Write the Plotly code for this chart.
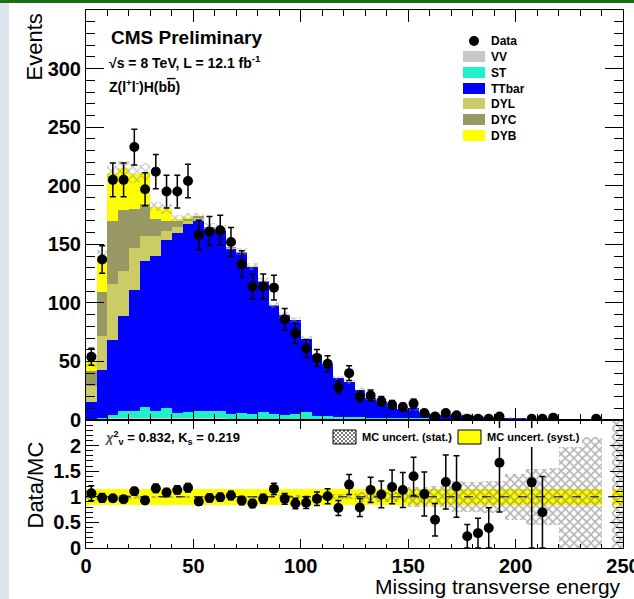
import numpy as np
import plotly.graph_objects as go

# ---------------- binning ----------------
bin_lo, bin_hi, bin_w = 0.0, 250.0, 5.0
centers = np.arange(bin_lo + bin_w / 2, bin_hi, bin_w)

# ---------------- observed events per bin ----------------
data_events = np.array([
    54, 137, 205, 205, 233, 197, 212, 195, 195, 204,
    158, 161, 162, 152, 133, 114, 114, 113, 86, 74,
    61, 53, 48, 28, 40, 20, 21, 16, 13, 11,
    14, 6, 3, 6, 4, 1, 1, 1, 3, 0,
    0, 1, 1, 2, 0, 0, 0, 1, 0, 0], dtype=float)

# ---------------- simulated backgrounds (stacked bottom -> top) ----------------
vv = np.array([
    0.3, 0.5, 1.0, 1.5, 1.5, 1.5, 1.5, 1.5, 1.2, 1.2,
    1.0, 1.0, 1.0, 0.8, 0.8, 0.7, 0.7, 0.6, 0.5, 0.5,
    0.5, 0.4, 0.4, 0.3, 0.3, 0.3, 0.2, 0.2, 0.2, 0.1,
    0.1, 0.1, 0.1, 0.1, 0.05, 0.1, 0.05, 0.05, 0.05, 0.05,
    0.05, 0.0, 0.0, 0.0, 0.0, 0.0, 0.0, 0.0, 0.0, 0.0])
st = np.array([
    0.5, 1.5, 3.0, 6.0, 6.0, 9.5, 6.0, 8.5, 5.0, 6.0,
    7.0, 7.0, 6.5, 4.0, 5.5, 4.3, 5.8, 4.4, 3.8, 4.5,
    6.0, 3.3, 2.8, 2.5, 2.5, 2.0, 1.8, 1.5, 1.2, 1.0,
    1.0, 0.8, 0.7, 0.6, 0.5, 0.5, 0.4, 0.3, 0.25, 0.2,
    0.2, 0.1, 0.15, 0.1, 0.05, 0.05, 0.05, 0.05, 0.0, 0.05])
ttbar = np.array([
    14.2, 41.0, 64.0, 81.5, 103.5, 124.5, 132.5, 144.0, 153.8, 159.8,
    162.3, 155.0, 154.0, 141.5, 136.0, 125.5, 111.5, 92.5, 85.0, 80.0,
    62.5, 51.5, 44.3, 33.0, 29.5, 23.0, 16.5, 13.6, 9.5, 8.6,
    8.9, 4.8, 4.65, 3.95, 2.78, 3.75, 3.0, 2.2, 1.5, 1.25,
    1.15, 0.68, 1.28, 0.6, 0.25, 0.25, 0.25, 0.25, 0.0, 0.15])
dyl = np.array([
    14.0, 29.0, 48.0, 38.0, 36.0, 21.5, 17.0, 7.0, 5.0, 3.0,
    2.0, 1.2, 1.0, 0.8, 0.5, 0.3, 0.2, 0.2, 0.1, 0.1,
    0.1] + [0.0] * 29)
dyc = np.array([
    13.0, 37.0, 54.0, 52.0, 33.0, 27.5, 14.5, 9.0, 4.5, 2.0,
    1.5, 0.5, 0.5, 0.4, 0.3, 0.2, 0.1, 0.1, 0.1] + [0.0] * 31)
dyb = np.array([
    8.5, 31.0, 41.0, 36.0, 30.0, 27.5, 10.5, 10.0, 2.5, 1.5,
    0.2, 0.3, 0.5, 0.5, 0.4, 0.3, 0.2, 0.1, 0.1] + [0.0] * 31)

# MC statistical uncertainty (absolute, events) and flat systematic fraction
mc_stat = np.array([
    5.0, 5.0, 6.0, 6.0, 8.0, 7.0, 4.0, 4.0, 3.0, 3.0,
    3.0, 3.0, 3.0, 3.0, 3.0, 3.0, 3.0, 2.5, 2.5, 2.5,
    2.2, 2.0, 2.0, 1.8, 1.6, 2.5, 1.8, 1.5, 1.1, 1.0,
    2.0, 1.1, 1.1, 0.95, 1.0, 1.3, 1.0, 0.8, 0.55, 0.68,
    0.63, 0.43, 0.79, 0.39, 0.35, 0.35, 0.35, 0.35, 0.0, 0.5])
mc_syst_frac = 0.155

components = [
    ("VV", vv, "#c8c8c8"),
    ("ST", st, "#1ef0cc"),
    ("TTbar", ttbar, "#0000ff"),
    ("DYL", dyl, "#cccc66"),
    ("DYC", dyc, "#999966"),
    ("DYB", dyb, "#ffff00"),
]

y_main_range = [0, 350]
y_ratio_range = [0, 2.5]
y_main_ticks = [0, 50, 100, 150, 200, 250, 300]
y_ratio_ticks = [0, 0.5, 1, 1.5, 2]
x_ticks = [0, 50, 100, 150, 200, 250]

# ---------------- page geometry ----------------
W, H = 634, 599
ML, MR, MT, MB = 86, 11, 10, 51
PW, PH = W - ML - MR, H - MT - MB
SPLIT_PX = 420


def fx(px):
    return (px - ML) / PW


def fy(py):
    return (H - MB - py) / PH


FONT = "Liberation Sans, Arial, Helvetica, sans-serif"
CLEAR = "rgba(0,0,0,0)"

fig = go.Figure()

# ---------------- stacked histogram (cumulative, drawn top layer first) ----------------
cum = np.cumsum([c[1] for c in components], axis=0)
mc_total = cum[-1]
for i in reversed(range(len(components))):
    fig.add_trace(go.Bar(
        x=centers, y=cum[i], width=bin_w,
        marker=dict(color=components[i][2], line=dict(width=0)),
        xaxis="x", yaxis="y", hoverinfo="skip", name=components[i][0]))

# MC statistical band on the stack
has_mc = mc_total > 0
fig.add_trace(go.Bar(
    x=centers[has_mc], y=2 * mc_stat[has_mc], base=(mc_total - mc_stat)[has_mc],
    width=bin_w,
    marker=dict(color=CLEAR, line=dict(width=0),
                pattern=dict(shape="x", fillmode="overlay", fgcolor="#8e8e8e",
                             bgcolor=CLEAR, size=6, solidity=0.38)),
    xaxis="x", yaxis="y", hoverinfo="skip"))

# observed data
has_data = data_events > 0
fig.add_trace(go.Scatter(
    x=centers[has_data], y=data_events[has_data], mode="markers",
    marker=dict(color="black", size=10),
    error_y=dict(type="data", array=np.sqrt(data_events[has_data]),
                 color="black", thickness=1.5, width=3),
    xaxis="x", yaxis="y", hoverinfo="skip", name="Data"))

# ---------------- ratio panel ----------------
fig.add_trace(go.Bar(
    x=centers[has_mc], y=np.full(has_mc.sum(), 2 * mc_syst_frac),
    base=np.full(has_mc.sum(), 1 - mc_syst_frac), width=bin_w,
    marker=dict(color="#ffff00", line=dict(width=0)),
    xaxis="x2", yaxis="y2", hoverinfo="skip"))

safe_mc = np.where(has_mc, mc_total, 1.0)
rel_stat = np.where(has_mc, mc_stat / safe_mc, 0)
fig.add_trace(go.Bar(
    x=centers[has_mc], y=2 * rel_stat[has_mc], base=(1 - rel_stat)[has_mc],
    width=bin_w,
    marker=dict(color=CLEAR, line=dict(width=0),
                pattern=dict(shape="x", fillmode="overlay", fgcolor="#666666",
                             bgcolor=CLEAR, size=6, solidity=0.45)),
    xaxis="x2", yaxis="y2", hoverinfo="skip"))

# data / MC, points falling above the frame are not drawn
ratio_all = np.where(has_mc, data_events / safe_mc, 0)
shown = has_mc & has_data & (ratio_all <= y_ratio_range[1])
ratio = ratio_all[shown]
ratio_err = np.sqrt(data_events[shown]) / mc_total[shown]
fig.add_trace(go.Scatter(
    x=centers[shown], y=ratio, mode="markers",
    marker=dict(color="black", size=10),
    error_y=dict(type="data", array=ratio_err, color="black", thickness=1.5, width=3),
    xaxis="x2", yaxis="y2", hoverinfo="skip"))

# ---------------- axes ----------------
frame = dict(showline=True, linecolor="black", linewidth=1, mirror="ticks",
             ticks="inside", tickcolor="black", tickwidth=1,
             showgrid=False, zeroline=False, automargin=False)
tick_font = dict(family=FONT, size=20, color="black", weight="bold")

fig.update_layout(
    xaxis=dict(domain=[0, 1], range=[bin_lo, bin_hi], anchor="y", matches="x2",
               tickvals=x_ticks, ticklen=12, showticklabels=False,
               minor=dict(dtick=10, tick0=0, ticklen=6, ticks="inside", tickcolor="black"),
               **frame),
    yaxis=dict(domain=[fy(SPLIT_PX), 1], range=y_main_range, anchor="x",
               tickvals=y_main_ticks, ticklen=18, tickfont=tick_font,
               minor=dict(dtick=10, tick0=0, ticklen=9, ticks="inside", tickcolor="black"),
               **frame),
    xaxis2=dict(domain=[0, 1], range=[bin_lo, bin_hi], anchor="y2",
                tickvals=x_ticks, ticklen=9, tickfont=tick_font,
                ticklabeloverflow="allow",
                minor=dict(dtick=10, tick0=0, ticklen=4, ticks="inside", tickcolor="black"),
                **frame),
    yaxis2=dict(domain=[0, fy(SPLIT_PX)], range=y_ratio_range, anchor="x2",
                tickvals=y_ratio_ticks, ticktext=["0", "0.5", "1", "1.5", "2"],
                ticklen=13, tickfont=tick_font,
                minor=dict(dtick=0.1, tick0=0, ticklen=7, ticks="inside", tickcolor="black"),
                **frame),
)

shapes = []
annotations = []

# unity line in the ratio panel
shapes.append(dict(type="line", xref="x2 domain", yref="y2", x0=0, x1=1, y0=1, y1=1,
                   line=dict(color="black", width=1, dash="dash"), layer="above"))

# axis titles
annotations += [
    dict(text="Events", x=fx(19), y=fy(47), textangle=-90,
         font=dict(family=FONT, size=22, color="black")),
    dict(text="Data/MC", x=fx(20), y=fy(485), textangle=-90,
         font=dict(family=FONT, size=22, color="black")),
    dict(text="Missing transverse energy", x=fx(623), y=fy(586), xanchor="right",
         font=dict(family=FONT, size=21, color="black")),
]

# experiment labels
annotations += [
    dict(text="CMS Preliminary", x=fx(109), y=fy(37), xanchor="left",
         font=dict(family=FONT, size=19, color="black", weight="bold")),
    dict(text="\u221As = 8 TeV, L = 12.1 fb<sup>-1</sup>", x=fx(107), y=fy(62), xanchor="left",
         font=dict(family=FONT, size=14, color="black", weight="bold")),
    dict(text="Z(l<sup>+</sup>l<sup>-</sup>)H(b<span style='text-decoration:overline'>b</span>)",
         x=fx(107), y=fy(86), xanchor="left",
         font=dict(family=FONT, size=14, color="black", weight="bold")),
]

# legend of the main panel
shapes.append(dict(type="circle", xref="paper", yref="paper",
                   x0=fx(469), x1=fx(479), y0=fy(46), y1=fy(36),
                   fillcolor="black", line=dict(width=0), layer="above"))
annotations.append(dict(text="Data", x=fx(489), y=fy(41), xanchor="left",
                        font=dict(family=FONT, size=12, color="black", weight="bold")))
legend_tops = [51, 67, 83, 98, 114, 130]
for (label, _, color), top in zip(components, legend_tops):
    shapes.append(dict(type="rect", xref="paper", yref="paper",
                       x0=fx(463), x1=fx(485), y0=fy(top + 11), y1=fy(top),
                       fillcolor=color, line=dict(width=0), layer="above"))
    annotations.append(dict(text=label, x=fx(489), y=fy(top + 5.5), xanchor="left",
                            font=dict(family=FONT, size=12, color="black", weight="bold")))

# fit-quality label in the ratio panel
annotations.append(dict(
    text="<span style='color:#555555'><i>\u03C7</i></span><sup>2</sup><sub>\u03BD</sub> = 0.832, K<sub>s</sub> = 0.219",
    x=fx(102), y=fy(438), xanchor="left",
    font=dict(family=FONT, size=13, color="black", weight="bold")))

# legend of the ratio panel (white box, hatched swatch, yellow swatch)
shapes.append(dict(type="rect", xref="paper", yref="paper",
                   x0=fx(330), x1=fx(582), y0=fy(447), y1=fy(428),
                   fillcolor="white", line=dict(width=0), layer="above"))


def hatch_path(x0, y0, x1, y1, step):
    w, h = x1 - x0, y1 - y0
    segs = []
    for c in np.arange(-h, w + step, step):
        t0, t1 = max(0.0, -c), min(h, w - c)
        if t1 > t0:
            segs.append(((x0 + c + t0, y0 + t0), (x0 + c + t1, y0 + t1)))
    for c in np.arange(0, w + h + step, step):
        t0, t1 = max(0.0, c - w), min(h, c)
        if t1 > t0:
            segs.append(((x0 + c - t0, y0 + t0), (x0 + c - t1, y0 + t1)))
    return " ".join(f"M{fx(a):.5f},{fy(b):.5f} L{fx(c):.5f},{fy(d):.5f}"
                    for (a, b), (c, d) in segs)


shapes.append(dict(type="path", xref="paper", yref="paper",
                   path=hatch_path(333, 430, 356, 444, 4.0),
                   line=dict(color="#7a7a7a", width=1), layer="above"))
shapes.append(dict(type="rect", xref="paper", yref="paper",
                   x0=fx(333), x1=fx(356), y0=fy(444), y1=fy(430),
                   line=dict(color="black", width=1), layer="above"))
shapes.append(dict(type="rect", xref="paper", yref="paper",
                   x0=fx(458), x1=fx(481), y0=fy(444), y1=fy(430),
                   fillcolor="#ffff00", line=dict(color="black", width=1), layer="above"))
annotations += [
    dict(text="MC uncert. (stat.)", x=fx(360), y=fy(437), xanchor="left",
         font=dict(family=FONT, size=11, color="black", weight="bold")),
    dict(text="MC uncert. (syst.)", x=fx(485), y=fy(437), xanchor="left",
         font=dict(family=FONT, size=11, color="black", weight="bold")),
]

# page decorations
shapes.append(dict(type="rect", xref="paper", yref="paper",
                   x0=fx(0), x1=fx(9), y0=fy(H), y1=fy(0),
                   fillcolor="#dce4ee", line=dict(width=0), layer="below"))
shapes.append(dict(type="rect", xref="paper", yref="paper",
                   x0=fx(0), x1=fx(W), y0=fy(3), y1=fy(0),
                   fillcolor="#1a6e1a", line=dict(width=0), layer="above"))

for a in annotations:
    a.setdefault("xref", "paper")
    a.setdefault("yref", "paper")
    a.setdefault("showarrow", False)
    a.setdefault("yanchor", "middle")

fig.update_layout(
    width=W, height=H,
    margin=dict(l=ML, r=MR, t=MT, b=MB, pad=0, autoexpand=False),
    paper_bgcolor="white", plot_bgcolor="white",
    barmode="overlay", bargap=0, showlegend=False,
    font=dict(family=FONT, color="black"),
    shapes=shapes, annotations=annotations,
)

fig.write_html("out.html")
